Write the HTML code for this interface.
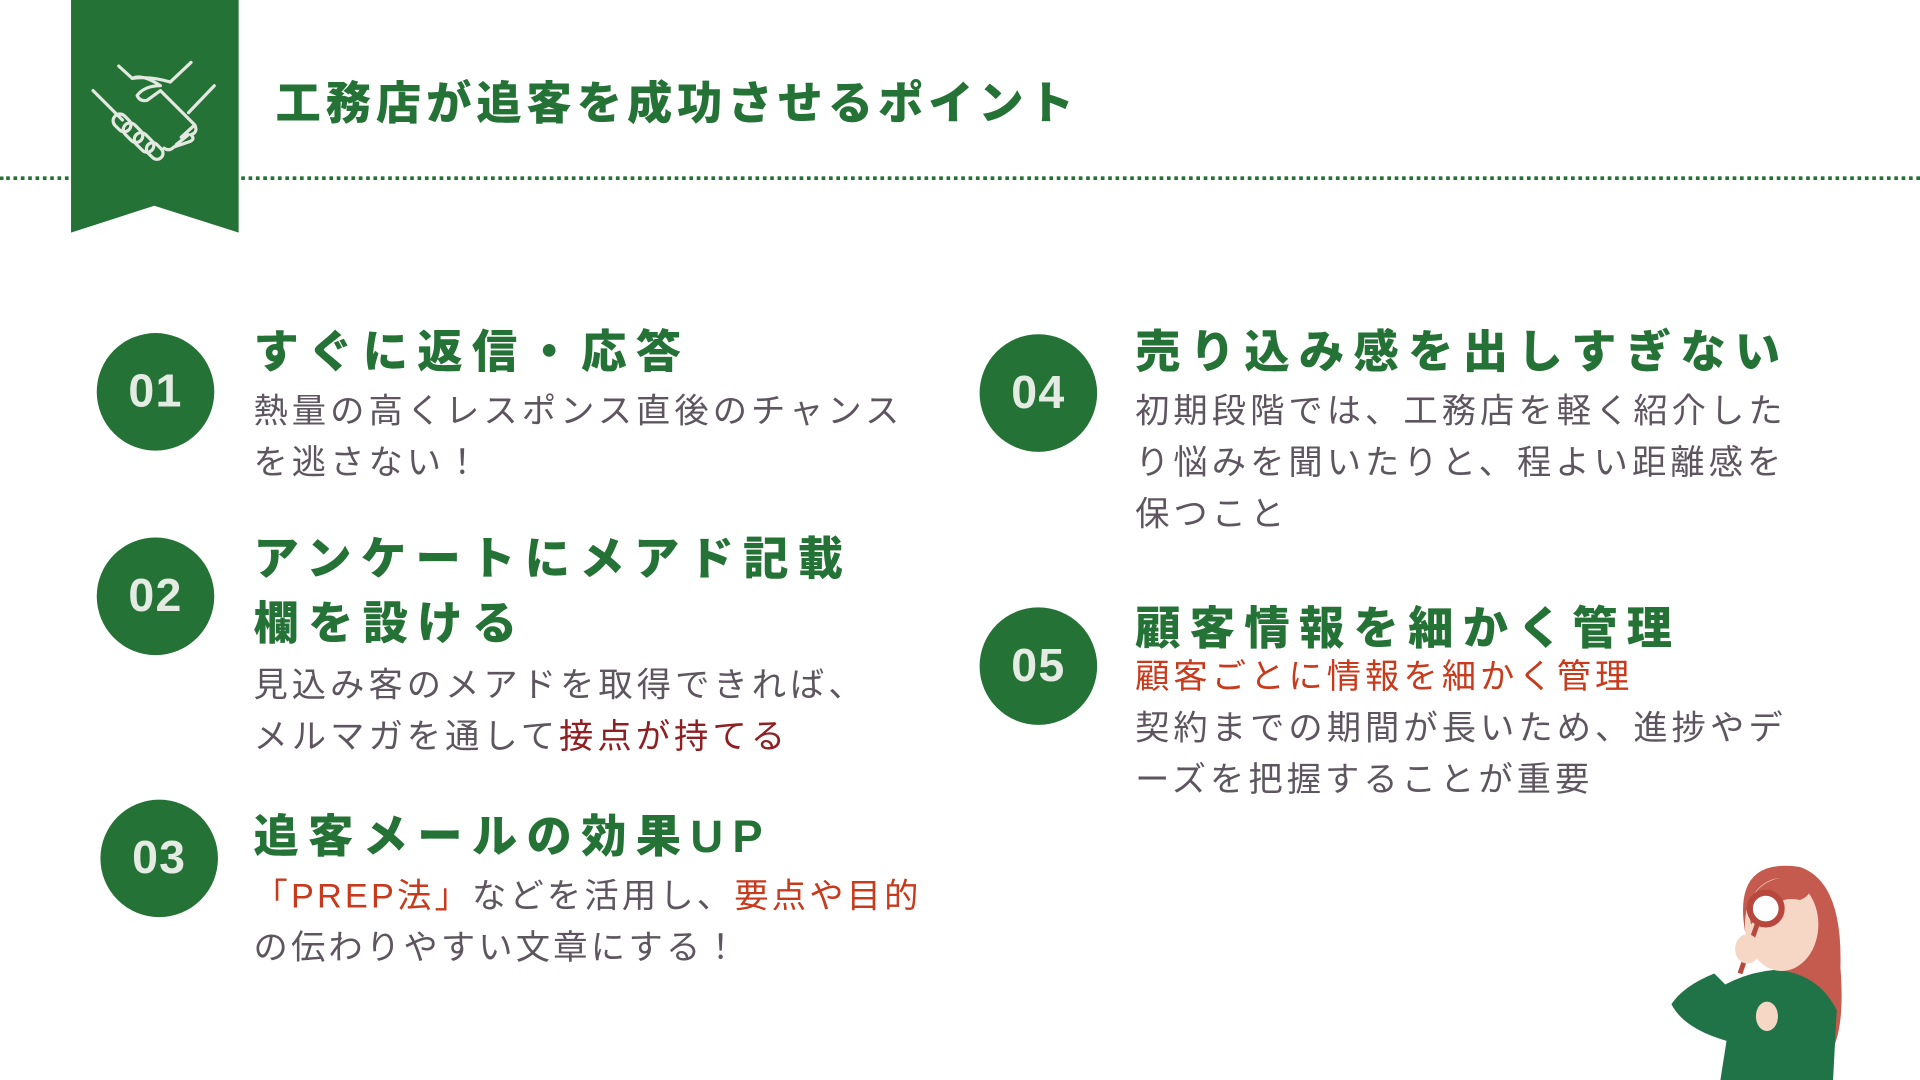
<!DOCTYPE html>
<html><head><meta charset="utf-8"><style>
html,body{margin:0;padding:0;background:#fff;overflow:hidden}
#w{width:1568px;height:882px;position:relative;transform:scale(1.22449);transform-origin:0 0;font-family:"Liberation Sans","Noto Sans CJK JP",sans-serif}
.a{position:absolute;white-space:nowrap}
.c{position:absolute;width:96px;height:96px;border-radius:50%;background:#257236;color:#e3ebe3;font-weight:bold;font-size:38px;display:flex;align-items:center;justify-content:center;letter-spacing:1px}
.h{position:absolute;color:#257236;font-weight:900;font-size:37px;letter-spacing:7.6px;line-height:53px;white-space:nowrap}
.b{position:absolute;color:#5e5560;font-size:28px;letter-spacing:3.3px;line-height:42px;white-space:nowrap}
.r{color:#c73a1c}.dr{color:#8e1f22}
</style></head><body><div id="w">
<div class="a" style="left:0;top:144px;width:1568px;border-top:3px dotted #257236"></div>
<svg class="a" style="left:58px;top:0" width="137" height="192"><polygon points="0,0 137,0 137,190 68,168 0,190" fill="#257236"/>
<g fill="none" stroke="#e3e8e0" stroke-width="2.6" stroke-linecap="round" stroke-linejoin="round">
<path d="M18,74 L42,98"/>
<path d="M39,54 L50,64 Q65,62 81,67 L98,51"/>
<path d="M117,70 L96,92"/>
<path d="M50,64 Q58,60 73,70 Q60,70 54,78 Q56,83 62,82 L73,74 L101,102 Q104,108 98,110 Q102,114 96,116 L84,120 Q80,124 76,121"/>
<path d="M101,102 L90,112 M96,110 L86,118"/>
<rect x="34" y="95" width="16" height="11" rx="5.5" transform="rotate(45 42 100)"/>
<rect x="42" y="103" width="18" height="11" rx="5.5" transform="rotate(45 51 108)"/>
<rect x="51" y="111" width="18" height="11" rx="5.5" transform="rotate(45 60 116)"/>
<rect x="61" y="118" width="15" height="10" rx="5" transform="rotate(45 68 123)"/>
</g></svg>
<div class="a" style="left:225px;top:54px;font-size:37px;font-weight:900;color:#257236;letter-spacing:4px">工務店が追客を成功させるポイント</div>

<div class="c" style="left:79px;top:272px">01</div>
<div class="h" style="left:207px;top:261px">すぐに返信・応答</div>
<div class="b" style="left:207px;top:315px">熱量の高くレスポンス直後のチャンス<br>を逃さない！</div>

<div class="c" style="left:79px;top:439px">02</div>
<div class="h" style="left:207px;top:430px">アンケートにメアド記載<br>欄を設ける</div>
<div class="b" style="left:207px;top:539px">見込み客のメアドを取得できれば、<br>メルマガを通して<span class="dr">接点が持てる</span></div>

<div class="c" style="left:82px;top:653px">03</div>
<div class="h" style="left:207px;top:657px">追客メールの効果UP</div>
<div class="b" style="left:207px;top:711px;letter-spacing:2.6px"><span class="r">「PREP法」</span>などを活用し、<span class="r">要点や目的</span><br>の伝わりやすい文章にする！</div>

<div class="c" style="left:800px;top:273px">04</div>
<div class="h" style="left:927px;top:261px">売り込み感を出しすぎない</div>
<div class="b" style="left:927px;top:315px">初期段階では、工務店を軽く紹介した<br>り悩みを聞いたりと、程よい距離感を<br>保つこと</div>

<div class="c" style="left:800px;top:496px">05</div>
<div class="h" style="left:927px;top:487px">顧客情報を細かく管理</div>
<div class="b" style="left:927px;top:532px"><span class="r">顧客ごとに情報を細かく管理</span><br>契約までの期間が長いため、進捗やデ<br>ーズを把握することが重要</div>

<svg class="a" style="left:1355px;top:700px" width="160" height="182">
<path d="M70,60 Q60,0 115,8 Q150,20 148,90 Q152,140 140,160 L128,120 Z" fill="#c55a4e"/>
<path d="M30,120 Q60,95 95,92 Q130,95 145,125 L142,182 L50,182 L55,150 Q20,140 10,120 Q20,105 45,95 L60,110 Z" fill="#1f7346"/>
<ellipse cx="100" cy="55" rx="30" ry="38" fill="#f6d7c6"/>
<path d="M72,40 Q85,10 120,18 Q128,30 115,35 Q95,30 75,55 Z" fill="#c55a4e"/>
<circle cx="87" cy="42" r="13" fill="#fff" stroke="#b8473d" stroke-width="5"/>
<line x1="80" y1="55" x2="66" y2="95" stroke="#b8473d" stroke-width="4"/>
<ellipse cx="72" cy="75" rx="10" ry="12" fill="#f6d7c6"/>
<ellipse cx="88" cy="130" rx="9" ry="12" fill="#f6d7c6"/>
</svg>
</div></body></html>
